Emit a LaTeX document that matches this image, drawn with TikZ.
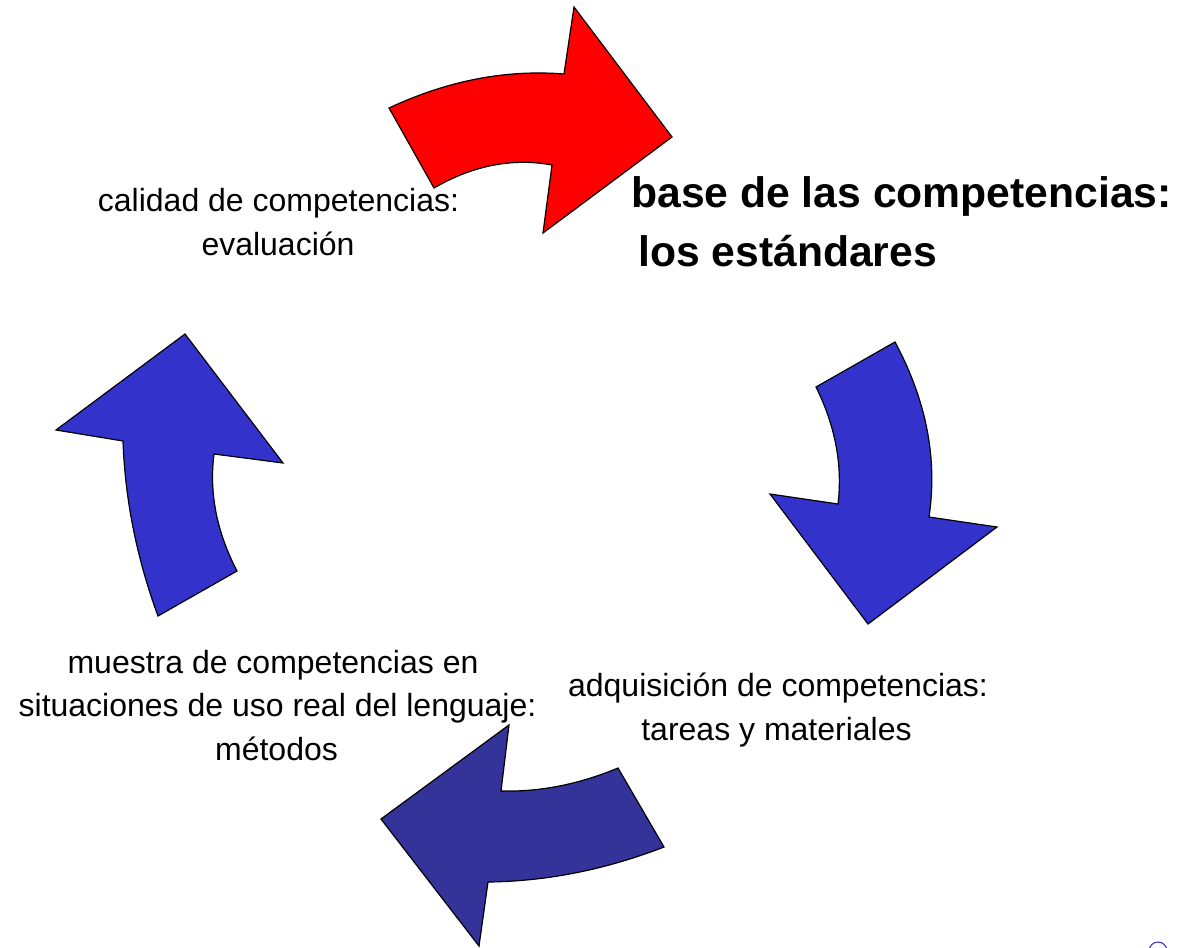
\documentclass[tikz,border=0pt]{standalone}
\usepackage{fontspec}
\setmainfont{Liberation Sans}
\definecolor{arrred}{HTML}{FF0000}
\definecolor{arrblue}{HTML}{3333CC}
\definecolor{arrnavy}{HTML}{333399}
\tikzset{
  bigarrow/.style={draw=black, line width=0.9pt, line join=miter},
  lbl/.style={inner sep=0pt, anchor=base, font=\fontsize{24}{33}\selectfont},
  title/.style={inner sep=0pt, anchor=base west, font=\fontsize{32}{44}\selectfont\bfseries},
}
\begin{document}
\begin{tikzpicture}[x=0.75pt, y=-0.75pt]
\useasboundingbox (0,0) rectangle (1177,947);
% red arrow (top)
\path[bigarrow, fill=arrred]
  (389,108) -- (434,188) .. controls (473.3,165.3) and (512.7,157.7) .. (552,165)
  -- (543,233) -- (672,137) -- (574,7) -- (564,74)
  .. controls (505.7,69.3) and (447.3,80.7) .. cycle;
% right blue arrow
\path[bigarrow, fill=arrblue]
  (895,342) -- (816,387) .. controls (835.3,426) and (842.7,465) .. (838,504)
  -- (770,494) -- (868,624) -- (997,527) -- (929,517)
  .. controls (937.7,458.7) and (926.3,400.3) .. cycle;
% bottom arrow
\path[bigarrow, fill=arrnavy]
  (664,847) -- (618,768) .. controls (579,784.3) and (540,792) .. (501,791)
  -- (509,725) -- (381,819) -- (479,946) -- (488,882)
  .. controls (546.7,881.3) and (605.3,869.7) .. cycle;
% left blue arrow
\path[bigarrow, fill=arrblue]
  (158,616) -- (237,571) .. controls (216.7,532) and (209,493) .. (214,454)
  -- (283,463) -- (185,334) -- (56,430) -- (123,441)
  .. controls (125,499.3) and (136.7,558) .. cycle;
% texts
\node[lbl] (cal1) at (278.5,211) {calidad de competencias:};
\node[lbl] (cal2) at (278,255) {evaluación};
\node[title] (base1) at (631,207) {base de las competencias:};
\node[title] (base2) at (638,266) {los estándares};
\node[lbl] (adq1) at (778,696) {adquisición de competencias:};
\node[lbl] (adq2) at (776.5,740) {tareas y materiales};
\node[lbl] (mue1) at (273,673) {muestra de competencias en};
\node[lbl] (mue2) at (277.5,716) {situaciones de uso real del lenguaje:};
\node[lbl] (mue3) at (276.5,760) {métodos};
% small partial circle at bottom right
\draw[arrblue, line width=0.8pt] (1158,951) circle[radius=9];
\end{tikzpicture}
\end{document}
